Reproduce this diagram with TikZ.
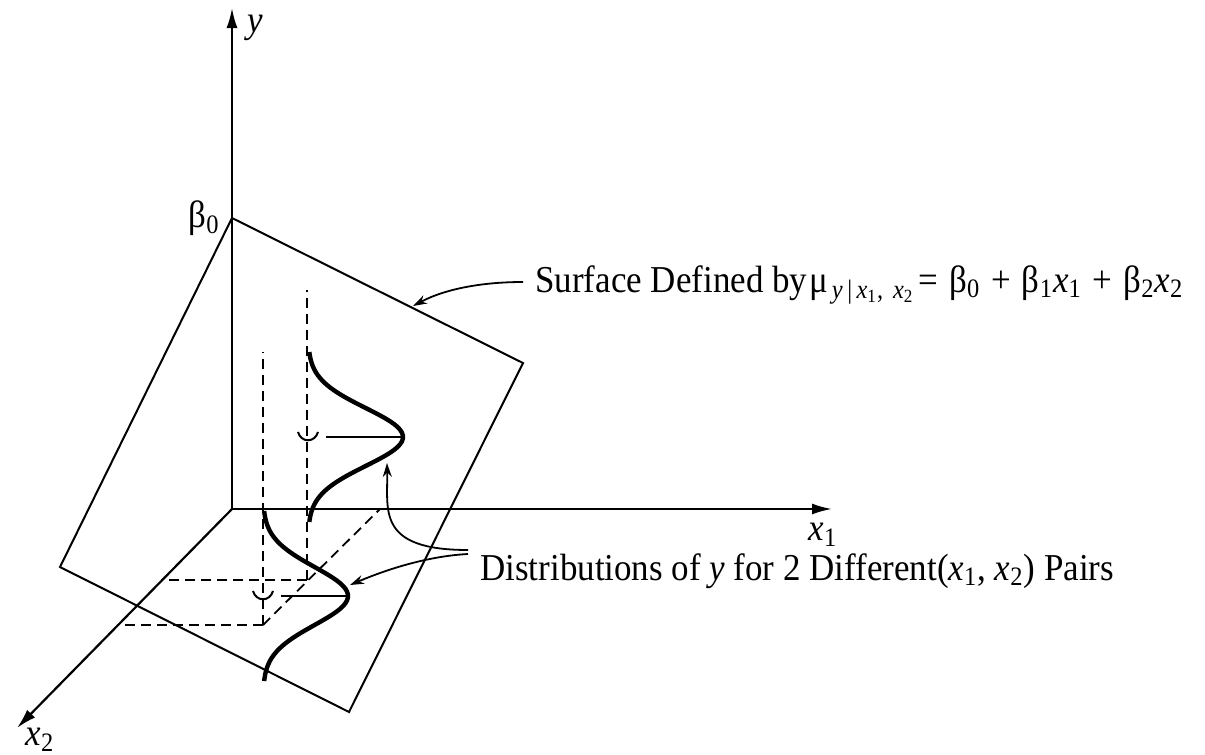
\documentclass[tikz,border=0pt]{standalone}
\usepackage{fontspec}
\setmainfont{Liberation Serif}[FakeStretch=0.92]
\usetikzlibrary{arrows.meta, calc}
\newcommand{\vx}[1]{\textit{x}\textsubscript{#1}}
\newcommand{\opgap}{\hspace{5.5pt}}
\tikzset{
  axis/.style={line width=1.1pt, -{Latex[length=10pt, width=5.5pt]}},
  planeedge/.style={line width=1pt, line join=miter},
  guide/.style={line width=0.9pt, dash pattern=on 5pt off 3pt},
  density/.style={line width=2.2pt},
  meanline/.style={line width=1pt},
  pointer/.style={line width=0.9pt, -{Stealth[length=7pt, width=4.5pt]}},
  lbl/.style={inner sep=0pt, font=\fontsize{19}{22}\selectfont},
}

\begin{document}
\begin{tikzpicture}[x=0.5pt, y=-0.5pt]
    \useasboundingbox (0,0) rectangle (1205,755);

    % axes
    \coordinate (O) at (232,509);
    \coordinate (ytip) at (232,8);
    \coordinate (x1tip) at (832,509);
    \coordinate (x2tip) at (17,728);
    \draw[axis] (O) -- (ytip);
    \draw[axis] (O) -- (x1tip);
    \draw[axis] (O) -- (x2tip);
    \node[lbl] (ylbl) at (255,28) {\textit{y}};
    \node[lbl] (x1lbl) at (823,535) {\vx{1}};
    \node[lbl] (x2lbl) at (40,740) {\vx{2}};
    \node[lbl, anchor=east] (b0lbl) at (220,218) {β\textsubscript{0}};

    % regression plane
    \coordinate (ptop) at (232,218);
    \coordinate (pright) at (523,363);
    \coordinate (pbottom) at (349,712);
    \coordinate (pleft) at (60,567);
    \draw[planeedge] (ptop) -- (pright) -- (pbottom) -- (pleft) -- cycle;

    % guide lines to the two (x1, x2) points
    \coordinate (fa) at (307,580);
    \coordinate (fb) at (263,625);
    \coordinate (gx1) at (380,509);
    \coordinate (gax2) at (161,580);
    \coordinate (gbx2) at (117,625);
    \coordinate (gatop) at (307,290);
    \coordinate (gbtop) at (263,352);
    \draw[guide] (fb) -- (gx1);
    \draw[guide] (fa) -- (gax2);
    \draw[guide] (fb) -- (gbx2);
    \draw[guide] (fa) -- (gatop);
    \draw[guide] (fb) -- (gbtop);

    % the two distributions of y
    \draw[density] plot[domain=-85:85, samples=60, smooth] ({308+95*exp(-0.5*(\x/29)*(\x/29))}, {437+\x});
    \draw[density] plot[domain=-85:85, samples=60, smooth] ({263+85*exp(-0.5*(\x/29)*(\x/29))}, {596+\x});
    \draw[meanline] (326,437) -- (403,437);
    \draw[meanline] (298,432) .. controls (301,443) and (315,443) .. (318,432);
    \draw[meanline] (281,596) -- (348,596);
    \draw[meanline] (253,591) .. controls (256,602) and (270,602) .. (273,591);

    % labels
    \node[lbl, anchor=base west] (surflbl) at (535,292)
        {Surface Defined by\hspace{1pt}μ\hspace{2pt}\textsubscript{\textit{y}\,|\,\vx{1},\hspace{5pt}\vx{2}}\hspace{2pt}=\opgap β\textsubscript{0}\opgap+\opgap β\textsubscript{1}\vx{1}\opgap+\opgap β\textsubscript{2}\vx{2}};
    \node[lbl, anchor=base west] (distlbl) at (480,580)
        {Distributions of \textit{y} for 2 Different(\vx{1}, \vx{2}) Pairs};

    \coordinate (surfhit) at (413,306);
    \coordinate (hita) at (387,463);
    \coordinate (hitb) at (350,585);
    \draw[pointer] ([xshift=-6pt, yshift=5pt]surflbl.base west) .. controls +(-38,0) and (447,288) .. (surfhit);
    \draw[pointer] ([xshift=-6pt, yshift=15pt]distlbl.base west) .. controls +(-92,0) and (388,510) .. (hita);
    \draw[pointer] ([xshift=-6pt, yshift=13pt]distlbl.base west) .. controls +(-38,2) and (390,568) .. (hitb);
\end{tikzpicture}
\end{document}
